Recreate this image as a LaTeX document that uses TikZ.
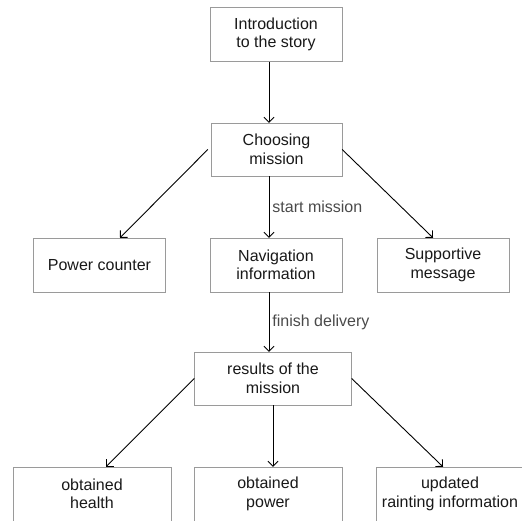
\documentclass[tikz,border=0pt]{standalone}
\usepackage{fontspec}
\setmainfont{Liberation Sans}
\usepackage{xcolor}
\usetikzlibrary{arrows.meta}
\definecolor{boxline}{HTML}{9A9A9A}
\definecolor{labeltext}{HTML}{4A4A4A}
\tikzstyle{stagebox} = [draw=boxline,fill=white,rectangle,align=center,
  minimum width=132pt,minimum height=54pt,inner sep=2pt,text=black!90,
  font=\fontsize{16}{18.5}\selectfont]
\tikzstyle{flowarrow} = [draw=black,line width=0.9pt,-{Straight Barb[length=5pt,width=10pt]}]
\tikzstyle{flowlabel} = [right,text=labeltext,inner sep=3pt,
  font=\fontsize{16}{18.5}\selectfont]

\begin{document}
\begin{tikzpicture}[x=1pt,y=-1pt]
    \useasboundingbox (0,0) rectangle (522,520);
    \clip (0,0) rectangle (522,520);
    % boxes
    \node [stagebox] (intro) at (276,34.5) {Introduction\\to the story};
    \node [stagebox, minimum width=131pt, minimum height=53pt] (choose) at (276.5,149.5) {Choosing\\mission};
    \node [stagebox] (power) at (99.5,265) {Power counter};
    \node [stagebox] (nav) at (276,265) {Navigation\\information};
    \node [stagebox] (support) at (443,265) {Supportive\\message};
    \node [stagebox, minimum width=157pt, minimum height=53pt] (results) at (273,378.5) {results of the\\mission};
    \node [stagebox, minimum width=158pt] (health) at (92,494) {obtained\\health};
    \node [stagebox, minimum width=148pt] (obtpower) at (268,494) {obtained\\power};
    \node [stagebox, minimum width=148pt] (updated) at (450,494) {updated\\rainting information};
    % connectors
    \draw [flowarrow] ([xshift=-7]intro.south) -- ([xshift=-7.5]choose.north);
    \draw [flowarrow] ([xshift=-3]choose.west) -- ([xshift=20.5]power.north);
    \draw [flowarrow] ([xshift=-7.5]choose.south) -- node [flowlabel] {start mission} ([xshift=-7]nav.north);
    \draw [flowarrow] (choose.east) -- ([xshift=-10]support.north);
    \draw [flowarrow] ([xshift=-7]nav.south) -- node [flowlabel] {finish delivery} ([xshift=-4]results.north);
    \draw [flowarrow] (results.west) -- ([xshift=14]health.north);
    \draw [flowarrow] (results.south) -- (results.south |- obtpower.north);
    \draw [flowarrow] (results.east) -- ([xshift=-7]updated.north);
\end{tikzpicture}
\end{document}
